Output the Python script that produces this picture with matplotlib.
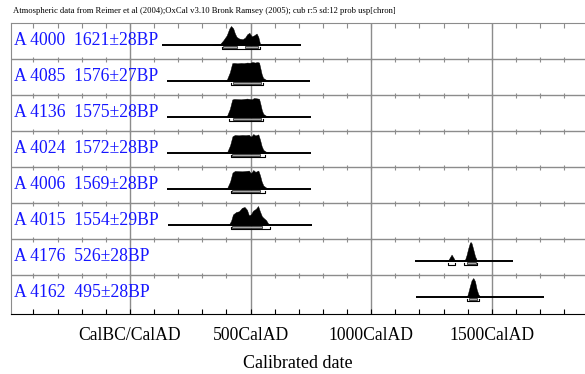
import matplotlib
matplotlib.use("Agg")
import matplotlib.pyplot as plt
from matplotlib.patches import Rectangle

plt.rcParams['font.family'] = ['Liberation Serif', 'DejaVu Serif']

title = ("Atmospheric data from Reimer et al (2004);OxCal v3.10 Bronk Ramsey (2005); "
         "cub r:5 sd:12 prob usp[chron]")

labels = ["A 4000  1621\u00b128BP", "A 4085  1576\u00b127BP", "A 4136  1575\u00b128BP",
          "A 4024  1572\u00b128BP", "A 4006  1569\u00b128BP", "A 4015  1554\u00b129BP",
          "A 4176  526\u00b128BP", "A 4162  495\u00b128BP"]

# extent of the base line of each distribution (cal AD)
line_start = [133, 153, 153, 153, 153, 157, 1181, 1185]
line_end = [709, 746, 750, 750, 750, 754, 1587, 1716]

# probability distributions (relative height)
yrs_4000 = [340, 360, 375, 387, 401, 412, 419, 428, 435, 442, 453, 467, 477, 486, 495, 504, 514, 525, 532, 539, 545]
p_4000 = [0, 0.03, 0.06, 0.24, 0.5, 0.87, 1.0, 0.87, 0.6, 0.42, 0.33, 0.3, 0.38, 0.56, 0.64, 0.45, 0.5, 0.6, 0.42, 0.05, 0]

yrs_4085 = [395, 401, 414, 424, 432, 445, 460, 472, 485, 497, 508, 518, 528, 535, 539, 546, 552, 566, 575]
p_4085 = [0, 0.04, 0.45, 0.94, 0.95, 0.93, 0.95, 0.94, 0.97, 0.96, 1.0, 0.97, 1.0, 0.97, 0.75, 0.35, 0.15, 0.04, 0]

yrs_4136 = [395, 402, 414, 424, 432, 445, 460, 472, 485, 497, 505, 514, 526, 535, 540, 547, 553, 566, 575]
p_4136 = [0, 0.04, 0.42, 0.92, 0.95, 0.94, 0.93, 0.95, 0.97, 0.95, 0.93, 1.0, 0.98, 0.96, 0.72, 0.33, 0.15, 0.04, 0]

yrs_4024 = [395, 403, 415, 425, 435, 450, 465, 480, 493, 500, 505, 511, 520, 532, 539, 546, 553, 566, 575]
p_4024 = [0, 0.04, 0.4, 0.88, 0.95, 0.93, 0.95, 0.94, 0.96, 0.86, 0.9, 1.0, 0.92, 0.98, 0.7, 0.35, 0.15, 0.04, 0]

yrs_4006 = [395, 403, 415, 425, 435, 450, 465, 480, 493, 500, 505, 511, 520, 532, 539, 546, 553, 566, 575]
p_4006 = [0, 0.04, 0.38, 0.86, 0.95, 0.94, 0.93, 0.95, 0.97, 0.84, 0.88, 1.0, 0.9, 0.97, 0.72, 0.38, 0.17, 0.05, 0]

yrs_4015 = [405, 412, 419, 427, 440, 452, 464, 475, 485, 493, 501, 510, 522, 531, 539, 547, 555, 564, 572, 582]
p_4015 = [0, 0.05, 0.2, 0.55, 0.68, 0.72, 0.9, 0.95, 0.8, 0.5, 0.55, 0.75, 0.85, 1.0, 0.7, 0.45, 0.35, 0.25, 0.08, 0]

yrs_4176 = [1305, 1319, 1326, 1333, 1340, 1347, 1360, 1380, 1388, 1395, 1402, 1409, 1412, 1416, 1423, 1430, 1437, 1445]
p_4176 = [0, 0.02, 0.18, 0.33, 0.18, 0.02, 0, 0, 0.03, 0.3, 0.66, 0.96, 1.0, 0.93, 0.6, 0.25, 0.05, 0]

yrs_4162 = [1390, 1398, 1402, 1409, 1416, 1423, 1430, 1437, 1444, 1452]
p_4162 = [0, 0.05, 0.22, 0.57, 0.88, 1.0, 0.83, 0.4, 0.13, 0]

# 68.2% and 95.4% ranges (cal AD)
r68 = [[(385, 443), (477, 531)], [(427, 543)], [(427, 543)], [(425, 541)],
       [(425, 541)], [(425, 546)], [(1395, 1434)], [(1406, 1439)]]
r95 = [[(381, 539)], [(419, 551)], [(409, 551)], [(417, 561)],
       [(417, 561)], [(417, 580)], [(1319, 1349), (1385, 1440)], [(1395, 1448)]]

dist_years = [yrs_4000, yrs_4085, yrs_4136, yrs_4024, yrs_4006, yrs_4015, yrs_4176, yrs_4162]
dist_probs = [p_4000, p_4085, p_4136, p_4024, p_4006, p_4015, p_4176, p_4162]

major_ticks = [0, 500, 1000, 1500]
major_labels = ["CalBC/CalAD", "500CalAD", "1000CalAD", "1500CalAD"]
minor_ticks = list(range(-400, 1900, 100))

W, H = 585, 374
fig = plt.figure(figsize=(W / 100, H / 100), dpi=100)
ax = fig.add_axes([11 / W, (H - 314) / H, (W - 11) / W, (314 - 23) / H])

n = len(labels)
ax.set_xlim(-493, 1886)
ax.set_ylim(n + 3 / 36, 0)
px = 1 / 36.0          # one pixel in row units
peak = 18.8 * px
grey = '#8c8c8c'

# grid: vertical lines at the major dates and row separators with small ticks
for x in major_ticks:
    ax.axvline(x, color=grey, lw=1.0, zorder=1)
for i in range(1, n):
    ax.axhline(i, color=grey, lw=1.0, zorder=1)
    ax.vlines(minor_ticks, i - 2.5 * px, i + 2.5 * px, color=grey, lw=0.8, zorder=1)
ax.vlines(minor_ticks, 0, 5 * px, color=grey, lw=0.8, zorder=1)

for i in range(n):
    base = i + 21.8 * px
    ax.text(0.005, base, labels[i], transform=ax.get_yaxis_transform(),
            color='#1515ff', fontsize=12.7, va='baseline', ha='left', zorder=3)
    ax.plot([line_start[i], line_end[i]], [base, base], color='black', lw=1.4,
            solid_capstyle='butt', zorder=3)
    ax.fill_between(dist_years[i], base, [base - peak * p for p in dist_probs[i]],
                    color='black', lw=0.3, zorder=3)
    for a, b in r68[i]:
        ax.add_patch(Rectangle((a, base + 1.2 * px), b - a, 1.8 * px,
                               facecolor='#a8a8a8', edgecolor='#303030', lw=0.6, zorder=3))
    for a, b in r95[i]:
        y = base + 4.3 * px
        ax.plot([a, a, b, b], [y - 1.8 * px, y, y, y - 1.8 * px], color='black',
                lw=0.8, zorder=3)

for s in ['left', 'top']:
    ax.spines[s].set_color(grey)
ax.spines['right'].set_visible(False)
ax.spines['bottom'].set_color('black')
ax.set_yticks([])

ax.set_xticks(major_ticks)
ax.set_xticklabels(major_labels, fontsize=12.7)
ax.set_xticks(minor_ticks, minor=True)
ax.tick_params(axis='x', which='both', direction='in', length=3.6, width=0.8, color='black')
ax.tick_params(axis='x', which='major', pad=9)
ax.set_xlabel("Calibrated date", fontsize=13, labelpad=8)

fig.text(13 / W, 1 - 11 / H, title, fontsize=6.25, va='center', ha='left')

fig.savefig("out.png", dpi=100)
